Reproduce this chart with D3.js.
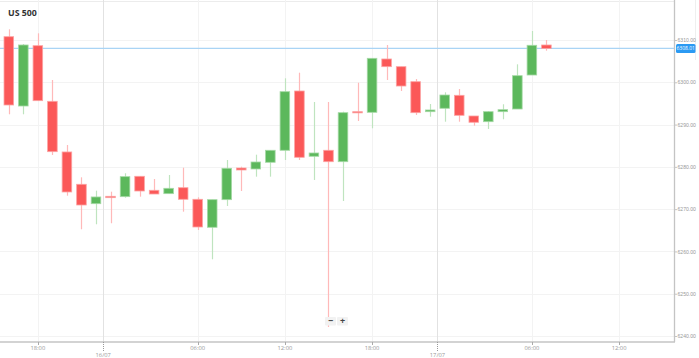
<!DOCTYPE html>
<html><head><meta charset="utf-8">
<script src="https://cdn.jsdelivr.net/npm/d3@7"></script>
<style>
html,body{margin:0;padding:0;background:#fff;}
svg{display:block;font-family:"Open Sans",Roboto,sans-serif;}
</style></head>
<body><svg id="c" width="699" height="358"></svg>
<script>
const title = "US 500";
const open  = [6310.78,6294.39,6308.65,6295.50,6283.52,6275.88,6271.29,6273.04,6272.95,6277.77,6274.46,6273.66,6275.07,6272.33,6265.71,6272.24,6279.73,6279.50,6281.08,6283.92,6297.94,6282.50,6283.92,6281.22,6293.05,6292.90,6305.51,6303.69,6300.14,6293.05,6293.85,6296.92,6292.03,6290.68,6293.05,6293.68,6301.72,6308.82];
const high  = [6312.53,6309.05,6311.58,6300.54,6285.17,6277.53,6274.37,6274.13,6278.48,6277.84,6277.13,6278.08,6279.80,6272.80,6272.24,6281.62,6280.04,6282.88,6283.92,6300.94,6302.27,6295.34,6295.34,6293.05,6299.90,6305.74,6308.82,6303.69,6300.78,6294.87,6297.63,6298.41,6292.03,6293.21,6294.80,6304.25,6312.13,6310.00];
const low   = [6292.43,6292.43,6295.58,6282.81,6273.18,6265.24,6266.42,6266.66,6272.71,6272.95,6273.58,6273.66,6269.40,6265.07,6258.14,6270.75,6274.29,6277.68,6277.68,6281.62,6281.62,6276.90,6242.13,6271.93,6290.85,6289.12,6300.54,6297.94,6292.27,6291.86,6290.68,6290.68,6289.74,6288.96,6291.25,6293.68,6301.72,6307.47];
const close = [6294.63,6308.82,6295.65,6283.59,6274.06,6270.98,6272.88,6272.71,6277.68,6274.29,6273.58,6274.93,6272.33,6265.78,6272.24,6279.66,6279.26,6281.15,6283.92,6297.78,6282.26,6283.28,6281.22,6292.81,6292.81,6305.67,6303.69,6299.12,6292.81,6293.45,6296.99,6292.19,6290.54,6293.05,6293.52,6301.56,6308.75,6308.01];
const timeTickPos   = [2, 13, 19, 25, 36, 42];
const timeTickLabel = ["18:00","06:00","12:00","18:00","06:00","12:00"];
const dayTickPos    = [6.5, 29.5];
const dayTickLabel  = ["16/07","17/07"];
const yTicks = [6240,6250,6260,6270,6280,6290,6300,6310];
const lastPrice = 6308.01;

const svg = d3.select("#c");
const W = 674, H = 342;
const x = d3.scaleLinear().domain([-0.606, 45.78]).range([0, W]);
const y = d3.scaleLinear().domain([6240, 6310]).range([336, 40]);
const step = x(1) - x(0);
const bw = step * 0.66;

const RED = "#fb5858", REDS = "#fca3a3", REDW = "#ffb9b9";
const GRN = "#5cb85c", GRNS = "#a5d9a5", GRNW = "#bfe4bf";

// frame lines
svg.append("line").attr("x1",0).attr("x2",W).attr("y1",1.5).attr("y2",1.5).attr("stroke","#ececec");
svg.append("line").attr("x1",695.5).attr("x2",695.5).attr("y1",0).attr("y2",60).attr("stroke","#efefef");

// gridlines
const g = svg.append("g");
g.selectAll(".hg").data(yTicks).join("line")
  .attr("x1",0).attr("x2",W).attr("y1",d=>Math.round(y(d))+0.5).attr("y2",d=>Math.round(y(d))+0.5)
  .attr("stroke","#f3f3f3");
g.selectAll(".vg").data(timeTickPos).join("line")
  .attr("x1",d=>Math.round(x(d))+0.5).attr("x2",d=>Math.round(x(d))+0.5).attr("y1",0).attr("y2",H)
  .attr("stroke","#f3f3f3");
g.selectAll(".dg").data(dayTickPos).join("line")
  .attr("x1",d=>Math.round(x(d))+0.5).attr("x2",d=>Math.round(x(d))+0.5).attr("y1",0).attr("y2",H)
  .attr("stroke","#e2e2e2");

// current price line
svg.append("line").attr("x1",0).attr("x2",W).attr("y1",y(lastPrice)).attr("y2",y(lastPrice))
  .attr("stroke","#a9d4f5").attr("stroke-width",1.2);

// candles
const idx = d3.range(open.length);
const cg = svg.append("g");
cg.selectAll(".w").data(idx).join("line")
  .attr("x1",i=>Math.round(x(i))+0.5).attr("x2",i=>Math.round(x(i))+0.5)
  .attr("y1",i=>y(high[i])).attr("y2",i=>y(low[i]))
  .attr("stroke",i=>close[i]>=open[i]?GRNW:REDW).attr("stroke-width",1.2);
cg.selectAll(".b").data(idx).join("rect")
  .attr("x",i=>x(i)-bw/2).attr("width",bw)
  .attr("y",i=>y(Math.max(open[i],close[i])))
  .attr("height",i=>Math.max(1.2, Math.abs(y(open[i])-y(close[i]))))
  .attr("fill",i=>close[i]>=open[i]?GRN:RED)
  .attr("stroke",i=>close[i]>=open[i]?GRNS:REDS).attr("stroke-width",0.8);

// axes lines
svg.append("line").attr("x1",0).attr("x2",W+1).attr("y1",H).attr("y2",H).attr("stroke","#c4c4c4").attr("stroke-width",1.6);
svg.append("line").attr("x1",W+0.5).attr("x2",W+0.5).attr("y1",0).attr("y2",H).attr("stroke","#c4c4c4").attr("stroke-width",1.3);

// y axis
const ya = svg.append("g").attr("transform",`translate(${W},0)`)
  .call(d3.axisRight(y).tickValues(yTicks).tickFormat(d3.format(".2f")).tickSize(3).tickPadding(0.5));
ya.select(".domain").remove();
ya.selectAll("line").attr("stroke","#c4c4c4");
ya.selectAll("text").attr("fill","#999").attr("font-size","5.1px");

// current price tag
const tag = svg.append("g").attr("transform",`translate(676,${y(lastPrice)})`);
tag.append("rect").attr("x",0).attr("y",-4.5).attr("width",19.5).attr("height",9).attr("rx",1.5).attr("fill","#2b9af3");
tag.append("text").attr("x",9.75).attr("y",0).attr("dy","0.35em").attr("text-anchor","middle")
  .attr("fill","#fff").attr("font-size","5px").text(d3.format(".2f")(lastPrice));

// x axis
const xa = svg.append("g").attr("transform",`translate(0,${H})`);
xa.selectAll(".tt").data(timeTickPos).join("line")
  .attr("x1",d=>Math.round(x(d))+0.5).attr("x2",d=>Math.round(x(d))+0.5).attr("y1",0).attr("y2",3)
  .attr("stroke","#aaa");
xa.selectAll(".tl").data(timeTickPos).join("text")
  .attr("x",d=>x(d)).attr("y",8.3).attr("text-anchor","middle").attr("fill","#999").attr("font-size","5.8px")
  .text((d,i)=>timeTickLabel[i]);
xa.selectAll(".dt").data(dayTickPos).join("line")
  .attr("x1",d=>Math.round(x(d))+0.5).attr("x2",d=>Math.round(x(d))+0.5).attr("y1",0).attr("y2",9)
  .attr("stroke","#999").attr("stroke-dasharray","1,1");
xa.selectAll(".dl").data(dayTickPos).join("text")
  .attr("x",d=>x(d)).attr("y",14.5).attr("text-anchor","middle").attr("fill","#999").attr("font-size","5.8px")
  .text((d,i)=>dayTickLabel[i]);

// title
svg.append("text").attr("x",8).attr("y",15.5).attr("font-size","8.8px").attr("font-weight","bold")
  .attr("fill","#333").text(title);

// zoom buttons
const zb = svg.append("g");
[["−",325],["+",337]].forEach(([t,bx])=>{
  zb.append("rect").attr("x",bx).attr("y",317).attr("width",11).attr("height",8.5).attr("fill","#f2f2f2").attr("rx",1);
  zb.append("text").attr("x",bx+5.5).attr("y",321.3).attr("dy","0.35em").attr("text-anchor","middle")
    .attr("font-size","9px").attr("font-weight","bold").attr("fill","#444").text(t);
});
</script></body></html>
